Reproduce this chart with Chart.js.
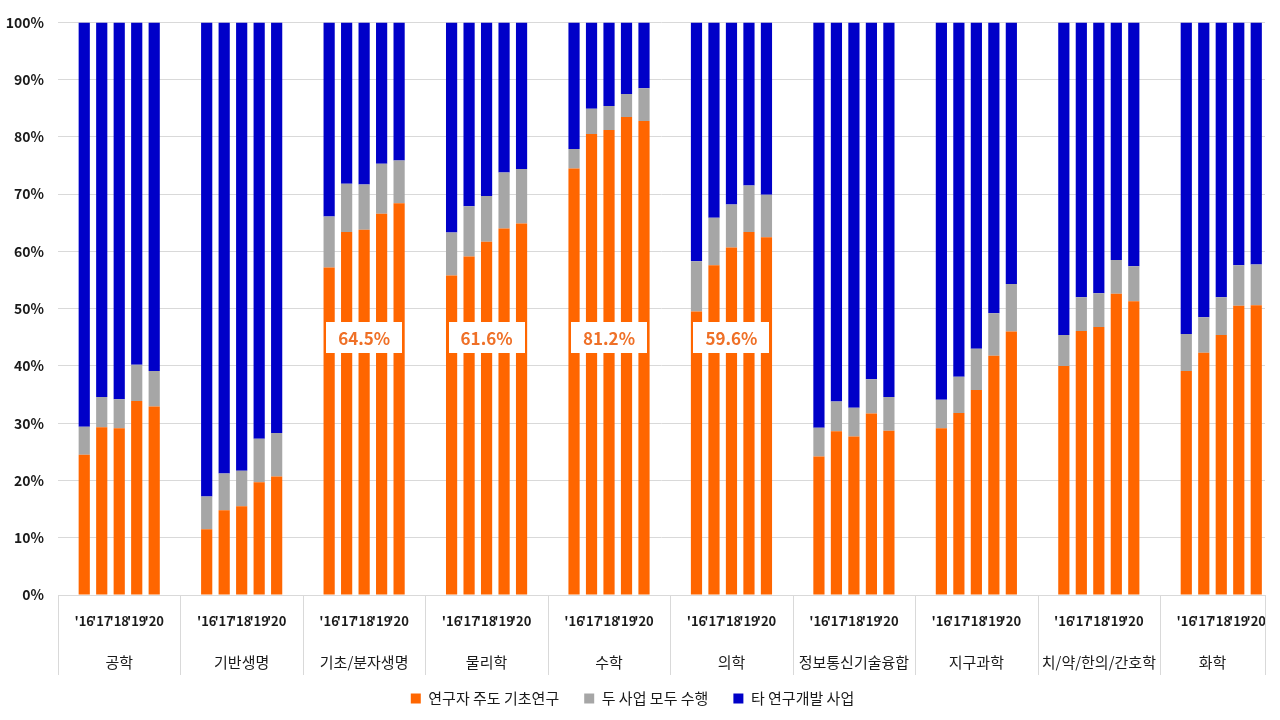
<!DOCTYPE html>
<html><head><meta charset="utf-8">
<script src="https://cdn.jsdelivr.net/npm/chart.js@4/dist/chart.umd.min.js"></script>
<style>html,body{margin:0;padding:0;background:#fff}canvas{display:block}</style>
</head><body>
<canvas id="c" width="1280" height="720"></canvas>
<script>
const groups = ['공학','기반생명','기초/분자생명','물리학','수학','의학','정보통신기술융합','지구과학','치/약/한의/간호학','화학'];
const years = ["'16","'17","'18","'19","'20"];
const seriesNames = ['연구자 주도 기초연구','두 사업 모두 수행','타 연구개발 사업'];
const researcherLed = [
  [24.5,29.3,29.1,33.9,32.9],
  [11.5,14.8,15.5,19.7,20.7],
  [57.2,63.4,63.8,66.6,68.4],
  [55.8,59.1,61.7,64.0,64.9],
  [74.5,80.5,81.2,83.5,82.8],
  [49.5,57.6,60.7,63.4,62.5],
  [24.2,28.6,27.7,31.7,28.7],
  [29.1,31.8,35.8,41.8,46.0],
  [40.0,46.1,46.8,52.6,51.3],
  [39.1,42.3,45.4,50.5,50.6]
];
const bothPrograms = [
  [4.9,5.3,5.1,6.3,6.2],
  [5.7,6.4,6.2,7.6,7.6],
  [8.9,8.4,7.9,8.7,7.5],
  [7.5,8.8,8.0,9.8,9.5],
  [3.4,4.4,4.2,4.0,5.7],
  [8.8,8.3,7.5,8.1,7.4],
  [5.0,5.2,5.0,6.0,5.9],
  [5.0,6.3,7.2,7.4,8.3],
  [5.4,5.9,5.9,5.9,6.1],
  [6.5,6.2,6.6,7.1,7.1]
];
const otherRnD = [
  [70.6,65.4,65.8,59.8,60.9],
  [82.8,78.8,78.3,72.7,71.7],
  [33.9,28.2,28.3,24.7,24.1],
  [36.7,32.1,30.3,26.2,25.6],
  [22.1,15.1,14.6,12.5,11.5],
  [41.7,34.1,31.8,28.5,30.1],
  [70.8,66.2,67.3,62.3,65.4],
  [65.9,61.9,57.0,50.8,45.7],
  [54.6,48.0,47.3,41.5,42.6],
  [54.4,51.5,48.0,42.4,42.3]
];
const calloutGroups = [2,3,4,5];
const calloutTexts = ['64.5%','61.6%','81.2%','59.6%'];
const calloutLevel = 45;
const yTicks = [0,10,20,30,40,50,60,70,80,90,100];

// build slot layout: blank, 5 years, blank (last group without trailing blank)
const slotLabels = [], dA = [], dB = [], dC = [], groupRanges = [];
groups.forEach((g, gi) => {
  const start = slotLabels.length;
  slotLabels.push(''); dA.push(null); dB.push(null); dC.push(null);
  years.forEach((y, yi) => {
    slotLabels.push(y);
    dA.push(researcherLed[gi][yi]); dB.push(bothPrograms[gi][yi]); dC.push(otherRnD[gi][yi]);
  });
  if (gi < groups.length - 1) { slotLabels.push(''); dA.push(null); dB.push(null); dC.push(null); }
  groupRanges.push([start, slotLabels.length - 1]);
});

const FONT = "'Noto Sans CJK KR','Noto Sans',sans-serif";

const overlay = {
  id: 'overlay',
  afterDraw(chart) {
    const ctx = chart.ctx, xs = chart.scales.x, ys = chart.scales.y;
    const half = (xs.getPixelForValue(1) - xs.getPixelForValue(0)) / 2;
    const top = chart.chartArea.bottom, bot = top + 80;
    ctx.save();
    ctx.strokeStyle = '#d9d9d9'; ctx.lineWidth = 1;
    groupRanges.forEach(([s, e], gi) => {
      const xl = Math.round(xs.getPixelForValue(s) - half) + 0.5;
      ctx.beginPath(); ctx.moveTo(xl, top); ctx.lineTo(xl, bot); ctx.stroke();
      if (gi === groupRanges.length - 1) {
        const xr = Math.round(xs.getPixelForValue(e) + half) + 0.5;
        ctx.beginPath(); ctx.moveTo(xr, top); ctx.lineTo(xr, bot); ctx.stroke();
      }
      const cx = (xs.getPixelForValue(s) + xs.getPixelForValue(e)) / 2;
      ctx.fillStyle = '#1a1a1a';
      ctx.font = '15px ' + FONT;
      ctx.textAlign = 'center'; ctx.textBaseline = 'middle';
      ctx.fillText(groups[gi], cx, top + 67);
    });
    // callouts
    calloutGroups.forEach((gi, k) => {
      const [s] = groupRanges[gi];
      const cx = (xs.getPixelForValue(s) + xs.getPixelForValue(s + 6)) / 2;
      const cy = ys.getPixelForValue(calloutLevel);
      ctx.font = 'bold 17px ' + FONT;
      const w = 76, h = 31;
      ctx.fillStyle = '#ffffff';
      ctx.fillRect(Math.round(cx - w / 2), Math.round(cy - h / 2), w, h);
      ctx.fillStyle = '#ef7027';
      ctx.textAlign = 'center'; ctx.textBaseline = 'middle';
      ctx.fillText(calloutTexts[k], cx, cy + 1);
    });
    ctx.restore();
  }
};

new Chart(document.getElementById('c'), {
  type: 'bar',
  data: {
    labels: slotLabels,
    datasets: [
      { label: seriesNames[0], data: dA, backgroundColor: '#ff6600' },
      { label: seriesNames[1], data: dB, backgroundColor: '#a6a6a6' },
      { label: seriesNames[2], data: dC, backgroundColor: '#0000c8' }
    ]
  },
  options: {
    responsive: false,
    animation: false,
    layout: { padding: { top: 20, right: 15, left: 0, bottom: 4 } },
    datasets: { bar: { categoryPercentage: 1, barPercentage: 0.64 } },
    scales: {
      x: {
        stacked: true,
        grid: { display: false },
        border: { display: true, color: '#d9d9d9' },
        ticks: { autoSkip: false, maxRotation: 0, minRotation: 0, padding: 10, color: '#1a1a1a',
                 font: { family: FONT, size: 13, weight: 'bold' } },
        afterFit(s) { s.height = 71; }
      },
      y: {
        stacked: true, min: 0, max: 100,
        afterBuildTicks(s) { s.ticks = yTicks.map(v => ({ value: v })); },
        grid: { color: '#d9d9d9', drawTicks: false },
        border: { display: false },
        ticks: { padding: 14, color: '#1a1a1a', font: { family: FONT, size: 14, weight: 'bold' },
                 callback: v => v + '%' },
        afterFit(s) { s.width = 58; }
      }
    },
    plugins: {
      tooltip: { enabled: false },
      legend: {
        position: 'bottom',
        labels: { boxWidth: 10, boxHeight: 10, padding: 25, color: '#1a1a1a',
                  font: { family: FONT, size: 15 } }
      }
    }
  },
  plugins: [overlay]
});
</script>
</body></html>
